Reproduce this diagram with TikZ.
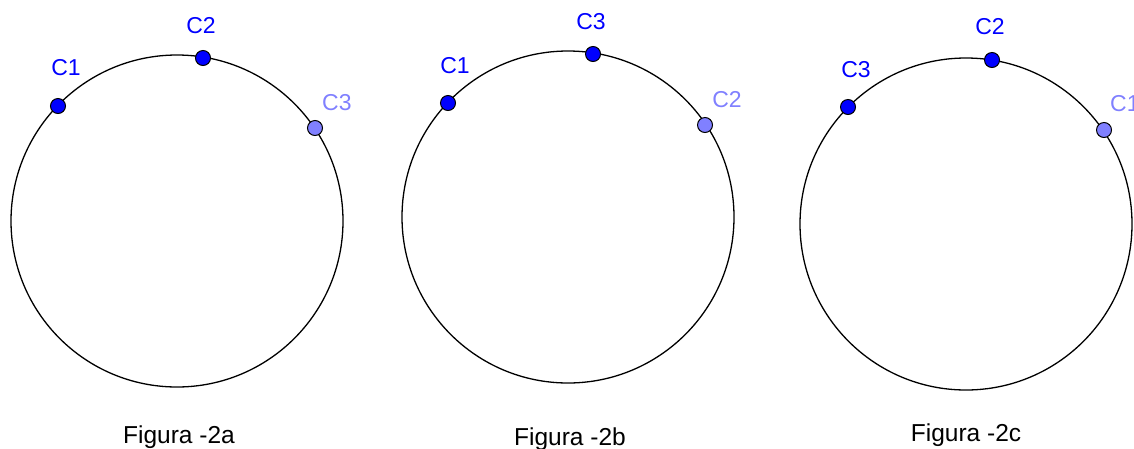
\documentclass[tikz,border=0pt]{standalone}
\usepackage{fontspec}
\setmainfont{Liberation Sans}
\definecolor{dotblue}{HTML}{0000FF}
\definecolor{lightblue}{HTML}{8080FF}
\begin{document}
\begin{tikzpicture}[x=1pt,y=-1pt,
  ring/.style={draw=black,line width=1.3pt},
  dot/.style={circle,draw=black,line width=1pt,fill=dotblue,minimum size=15pt,inner sep=0pt},
  ldot/.style={dot,fill=lightblue},
  lbl/.style={text=dotblue,font=\fontsize{23}{26}\selectfont,inner sep=0pt},
  llbl/.style={lbl,text=lightblue},
  figcaption/.style={font=\fontsize{24.5}{28}\selectfont,inner sep=0pt,anchor=base}]
\useasboundingbox (0,0) rectangle (1134,448);
\clip (0,0) rectangle (1134,448);
% circle a
\draw[ring] (177,221) circle[radius=166];
\node[dot] (a1) at (58,106) {};
\node[dot] (a2) at (203,58) {};
\node[ldot] (a3) at (315,128) {};
\node[lbl] (la1) at (66,68) {C1};
\node[lbl] (la2) at (201,26) {C2};
\begin{scope}
\clip (300,80) rectangle (357,120);
\node[llbl,anchor=west] (la3) at (322,103) {C3};
\end{scope}
\node[figcaption] (ca) at (179,443) {Figura -2a};
% circle b
\draw[ring] (568,217) circle[radius=166];
\node[dot] (b1) at (448,103) {};
\node[dot] (b3) at (593,54) {};
\node[ldot] (b2) at (705,125) {};
\node[lbl] (lb1) at (455,66) {C1};
\node[lbl] (lb3) at (591,22) {C3};
\node[llbl] (lb2) at (727,100) {C2};
\node[figcaption] (cb) at (570,445) {Figura -2b};
% circle c
\draw[ring] (966,224) circle[radius=166];
\node[dot] (c3) at (848,107) {};
\node[dot] (c2) at (992,60) {};
\node[ldot] (c1) at (1104,130) {};
\node[lbl] (lc3) at (856,70) {C3};
\node[lbl] (lc2) at (990,27) {C2};
\node[llbl,anchor=west] (lc1) at (1110,104) {C1};
\node[figcaption] (cc) at (966,441) {Figura -2c};
\end{tikzpicture}
\end{document}
